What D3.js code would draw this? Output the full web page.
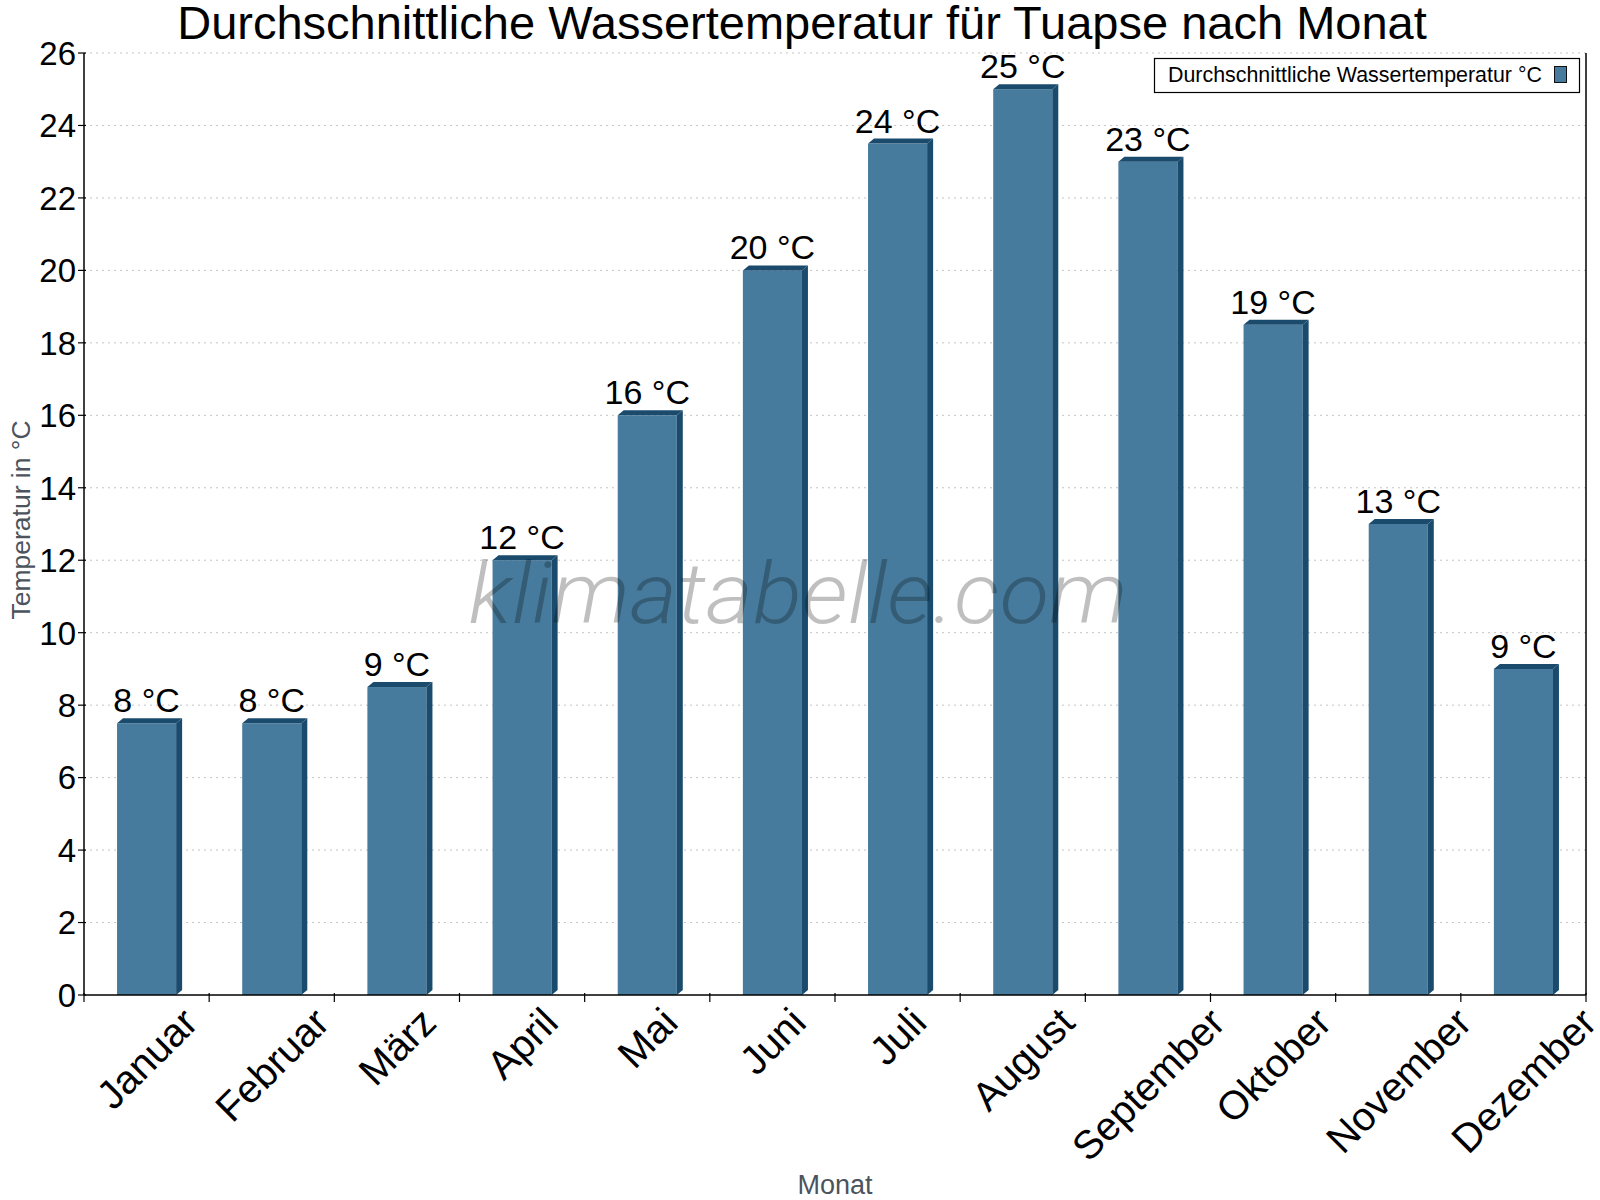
<!DOCTYPE html>
<html>
<head>
<meta charset="utf-8">
<script src="https://cdn.jsdelivr.net/npm/d3@7"></script>
<style>
  body { margin: 0; background: #fff; }
  svg { display: block; font-family: "Liberation Sans", Arial, sans-serif; }
</style>
</head>
<body>
<svg id="chart" width="1600" height="1200"></svg>
<script>
// Monthly water temperature, Tuapse
const months = ["Januar", "Februar", "März", "April", "Mai", "Juni",
  "Juli", "August", "September", "Oktober", "November", "Dezember"];
const temps = [7.5, 7.5, 8.5, 12, 16, 20, 23.5, 25, 23, 18.5, 13, 9];
const valueLabels = ["8 °C", "8 °C", "9 °C", "12 °C", "16 °C", "20 °C",
  "24 °C", "25 °C", "23 °C", "19 °C", "13 °C", "9 °C"];
const yTicks = [0, 2, 4, 6, 8, 10, 12, 14, 16, 18, 20, 22, 24, 26];

const titleText = "Durchschnittliche Wassertemperatur für Tuapse nach Monat";
const legendText = "Durchschnittliche Wassertemperatur °C";

// plot area
const plotLeft = 84, plotRight = 1586, plotTop = 53, plotBottom = 995;
const front = "#467b9d", dark = "#1a4b6d";
const depthX = 6, depthY = 5;

const svg = d3.select("#chart");

const x = d3.scaleBand().domain(months).range([plotLeft, plotRight]).paddingInner(0).paddingOuter(0);
const y = d3.scaleLinear().domain([0, 26]).range([plotBottom, plotTop]);

// grid lines
svg.append("g")
  .selectAll("line")
  .data(yTicks.filter(d => d > 0))
  .join("line")
    .attr("x1", plotLeft).attr("x2", plotRight)
    .attr("y1", d => y(d)).attr("y2", d => y(d))
    .attr("stroke", "#c4c4c4")
    .attr("stroke-width", 1)
    .attr("stroke-dasharray", "2,4");

// bars with a little 3d effect
const barW = x.bandwidth() * 0.472;
const bars = svg.append("g")
  .selectAll("g")
  .data(months.map((m, i) => ({month: m, value: temps[i], label: valueLabels[i]})))
  .join("g");

bars.append("rect")
  .attr("x", d => x(d.month) + x.bandwidth() / 2 - barW / 2)
  .attr("y", d => y(d.value))
  .attr("width", barW)
  .attr("height", d => y(0) - y(d.value))
  .attr("fill", front);

// right side
bars.append("path")
  .attr("fill", dark)
  .attr("d", d => {
    const x1 = x(d.month) + x.bandwidth() / 2 + barW / 2;
    const yt = y(d.value), yb = y(0);
    return `M${x1},${yt} L${x1 + depthX},${yt - depthY} L${x1 + depthX},${yb - depthY} L${x1},${yb} Z`;
  });

// top
bars.append("path")
  .attr("fill", dark)
  .attr("d", d => {
    const x0 = x(d.month) + x.bandwidth() / 2 - barW / 2;
    const x1 = x0 + barW;
    const yt = y(d.value);
    return `M${x0},${yt} L${x0 + depthX},${yt - depthY} L${x1 + depthX},${yt - depthY} L${x1},${yt} Z`;
  });

// axes lines
svg.append("line").attr("x1", plotLeft).attr("x2", plotLeft).attr("y1", plotTop).attr("y2", plotBottom)
  .attr("stroke", "#000").attr("stroke-width", 1.5);
svg.append("line").attr("x1", plotRight).attr("x2", plotRight).attr("y1", plotTop).attr("y2", plotBottom)
  .attr("stroke", "#000").attr("stroke-width", 1.5);
svg.append("line").attr("x1", plotLeft).attr("x2", plotRight).attr("y1", plotBottom).attr("y2", plotBottom)
  .attr("stroke", "#000").attr("stroke-width", 1.5);

// y ticks + labels
const yAx = svg.append("g");
yAx.selectAll("line")
  .data(yTicks)
  .join("line")
    .attr("x1", plotLeft - 6).attr("x2", plotLeft + 2)
    .attr("y1", d => y(d)).attr("y2", d => y(d))
    .attr("stroke", "#000").attr("stroke-width", 1.2);
yAx.selectAll("text")
  .data(yTicks)
  .join("text")
    .attr("x", plotLeft - 8)
    .attr("y", d => y(d))
    .attr("dy", "0.36em")
    .attr("text-anchor", "end")
    .attr("font-size", 33)
    .attr("fill", "#000")
    .text(d => d);

// x ticks at category boundaries
const bounds = months.map(m => x(m)).concat([plotRight]);
svg.append("g")
  .selectAll("line")
  .data(bounds)
  .join("line")
    .attr("x1", d => d).attr("x2", d => d)
    .attr("y1", plotBottom - 2).attr("y2", plotBottom + 7)
    .attr("stroke", "#000").attr("stroke-width", 1.2);

// x labels, rotated
svg.append("g")
  .selectAll("text")
  .data(months)
  .join("text")
    .attr("text-anchor", "end")
    .attr("font-size", 40)
    .attr("fill", "#000")
    .text(d => d)
    .attr("transform", function(d) {
      const L = this.getComputedTextLength();
      const px = x(d) + x.bandwidth() / 2 + 0.354 * L + 10;
      const py = 1025;
      return `translate(${px},${py}) rotate(-45)`;
    });

// watermark
svg.append("text")
  .attr("x", 798)
  .attr("y", 623)
  .attr("text-anchor", "middle")
  .attr("font-family", "Roboto, 'Open Sans', sans-serif")
  .attr("font-style", "italic")
  .attr("font-weight", 300)
  .attr("font-size", 86)
  .attr("fill", "#000")
  .attr("fill-opacity", 0.25)
  .attr("textLength", 659)
  .attr("lengthAdjust", "spacingAndGlyphs")
  .text("klimatabelle.com");

// value labels
bars.append("text")
  .attr("x", d => x(d.month) + x.bandwidth() / 2)
  .attr("y", d => y(d.value) - 11)
  .attr("text-anchor", "middle")
  .attr("font-size", 34)
  .attr("fill", "#000")
  .text(d => d.label);

// title
svg.append("text")
  .attr("x", 802)
  .attr("y", 39)
  .attr("text-anchor", "middle")
  .attr("font-size", 47)
  .attr("fill", "#000")
  .text(titleText);

// axis titles
svg.append("text")
  .attr("transform", "translate(30,520) rotate(-90)")
  .attr("text-anchor", "middle")
  .attr("font-size", 26.5)
  .attr("fill", "#4b535c")
  .text("Temperatur in °C");

svg.append("text")
  .attr("x", 835)
  .attr("y", 1194)
  .attr("text-anchor", "middle")
  .attr("font-size", 27)
  .attr("fill", "#4b535c")
  .text("Monat");

// legend
const legend = svg.append("g");
legend.append("rect")
  .attr("x", 1154.5).attr("y", 58.5)
  .attr("width", 425).attr("height", 34)
  .attr("fill", "#fff").attr("stroke", "#000").attr("stroke-width", 1.2);
legend.append("text")
  .attr("x", 1168).attr("y", 82)
  .attr("font-size", 21.4)
  .attr("fill", "#000")
  .text(legendText);
legend.append("rect")
  .attr("x", 1554.5).attr("y", 66.5)
  .attr("width", 12).attr("height", 16)
  .attr("fill", front).attr("stroke", "#111").attr("stroke-width", 1);
</script>
</body>
</html>
